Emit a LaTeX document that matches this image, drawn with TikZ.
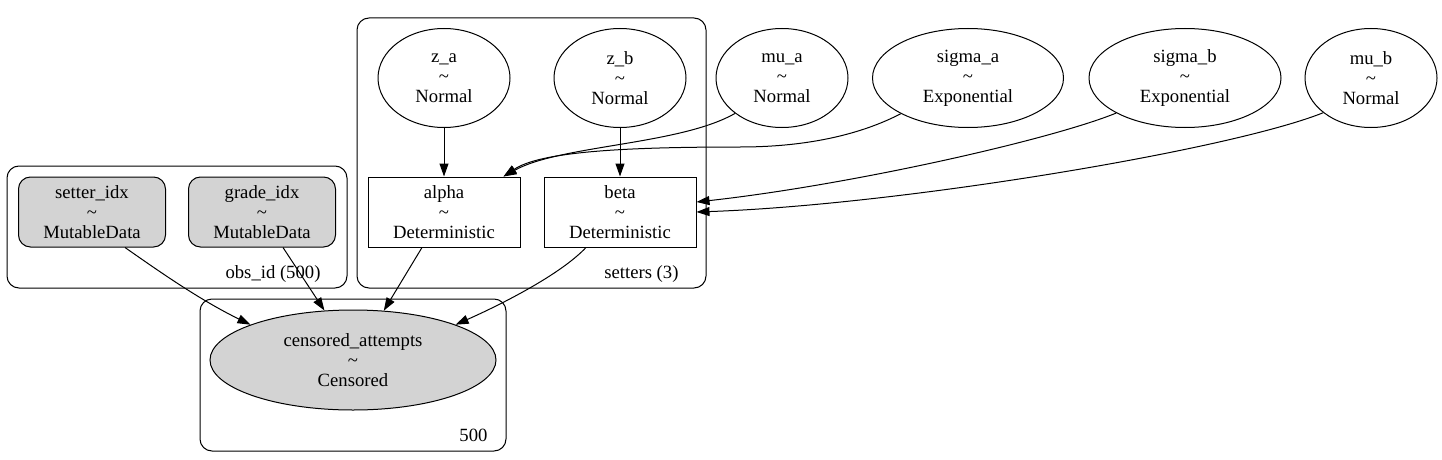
\documentclass[tikz,border=0pt]{standalone}
\usepackage{fontspec}
\setmainfont{Liberation Serif}
\usetikzlibrary{arrows.meta}
\usetikzlibrary{shapes.geometric}
\definecolor{obsgray}{HTML}{D3D3D3}
\tikzset{rv/.style={draw, ellipse, line width=1pt, inner sep=0pt,
  minimum height=99pt, align=center}}
\tikzset{det/.style={draw, rectangle, line width=1pt, inner sep=0pt,
  minimum width=152pt, minimum height=70pt, align=center}}
\tikzset{dat/.style={draw, rectangle, rounded corners=12pt, fill=obsgray,
  line width=1pt, inner sep=0pt, minimum width=147pt, minimum height=70pt, align=center}}
\tikzset{plate/.style={draw, line width=1pt, rounded corners=12pt}}
\tikzset{edge/.style={line width=1pt, -{Triangle[length=13pt, width=9pt]}}}

\begin{document}
\begin{tikzpicture}[x=1pt, y=-1pt, font=\fontsize{18.67}{20}\selectfont]
      \useasboundingbox (0, 0) rectangle (1442, 460);

      % plates
      \draw [plate] (357, 18) rectangle (706, 288);
      \draw [plate] (7, 166) rectangle (347, 288);
      \draw [plate] (200, 299) rectangle (506, 451);
      \node [anchor=base east] (setterslbl) at (682, 278) {setters (3)};
      \node [anchor=base east] (obslbl) at (324, 278) {obs\_id (500)};
      \node [anchor=base east] (cenlbl) at (491, 441) {500};

      \node [rv, minimum width=132pt] (za) at (444, 78) {z\_a\\\textasciitilde\\Normal};
      \node [rv, minimum width=132pt] (zb) at (620, 78) {z\_b\\\textasciitilde\\Normal};
      \node [rv, minimum width=132pt] (mua) at (782, 78) {mu\_a\\\textasciitilde\\Normal};
      \node [rv, minimum width=191pt] (sigmaa) at (968, 78) {sigma\_a\\\textasciitilde\\Exponential};
      \node [rv, minimum width=192pt] (sigmab) at (1185, 78) {sigma\_b\\\textasciitilde\\Exponential};
      \node [rv, minimum width=132pt] (mub) at (1371, 78) {mu\_b\\\textasciitilde\\Normal};

      \node [det] (alpha) at (444, 212) {alpha\\\textasciitilde\\Deterministic};
      \node [det] (beta) at (620, 212) {beta\\\textasciitilde\\Deterministic};
      \node [dat] (setteridx) at (92, 212) {setter\_idx\\\textasciitilde\\MutableData};
      \node [dat] (gradeidx) at (262, 212) {grade\_idx\\\textasciitilde\\MutableData};
      \node [rv, fill=obsgray, minimum width=286pt, minimum height=100pt] (cens) at (353, 360)
        {censored\_attempts\\\textasciitilde\\Censored};

      \draw [edge] (za) -- (alpha);
      \draw [edge] (zb) -- (beta);
      \draw [edge] (mua.217) .. controls (680, 145) and (560, 145) .. ([xshift=-17pt]alpha.north east);
      \draw [edge] (sigmaa.208) .. controls (850, 140) and (790, 147) .. (740, 147)
        .. controls (620, 147) and (540, 152) .. ([xshift=-17pt]alpha.north east);
      \draw [edge] (sigmab.207) .. controls (1050, 140) and (850, 185) .. ([yshift=10pt]beta.east);
      \draw [edge] (mub.216) .. controls (1230, 150) and (900, 205) .. (beta.east);

      \draw [edge] ([xshift=33pt]setteridx.south) .. controls (160, 272) and (200, 300) .. (cens.161);
      \draw [edge] ([xshift=21pt]gradeidx.south) -- (cens.120);
      \draw [edge] ([xshift=-22pt]alpha.south) -- (cens.58);
      \draw [edge] ([xshift=-34pt]beta.south) .. controls (560, 275) and (500, 305) .. (cens.19);
    \end{tikzpicture}
\end{document}
